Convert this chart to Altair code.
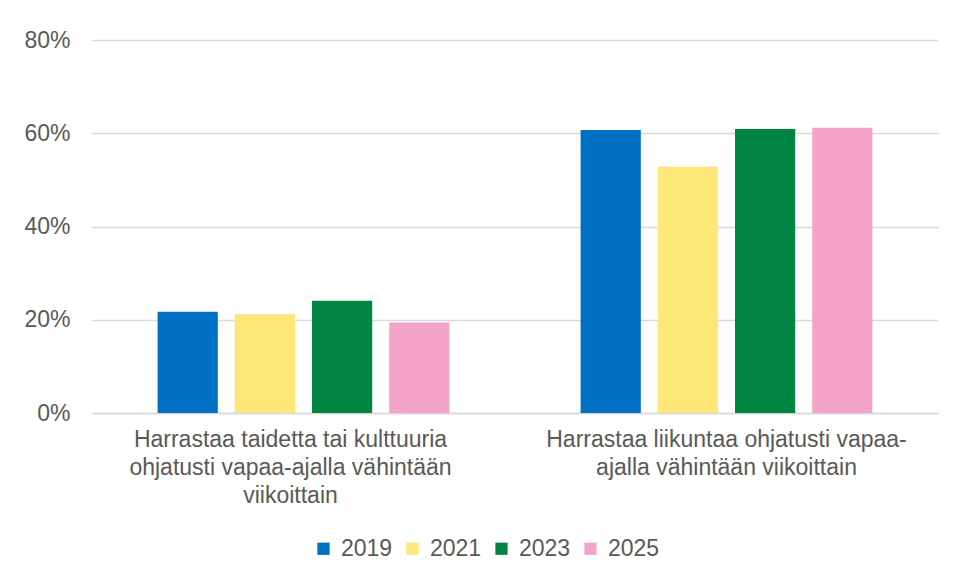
import altair as alt
import pandas as pd

categories = [
    "Harrastaa taidetta tai kulttuuria\nohjatusti vapaa-ajalla vähintään\nviikoittain",
    "Harrastaa liikuntaa ohjatusti vapaa-\najalla vähintään viikoittain",
]
years = ["2019", "2021", "2023", "2025"]
values_2019 = [0.217, 0.607]
values_2021 = [0.212, 0.528]
values_2023 = [0.241, 0.609]
values_2025 = [0.194, 0.612]
colors = ["#0070C4", "#FFE679", "#008542", "#F4A4C9"]

rows = []
for y, vals in zip(years, [values_2019, values_2021, values_2023, values_2025]):
    for c, v in zip(categories, vals):
        rows.append({"category": c, "year": y, "value": v})
df = pd.DataFrame(rows)

FONT = "Liberation Sans"
GREY = "#595959"

chart = alt.Chart(df).mark_bar().encode(
    x=alt.X("category:N", sort=categories, title=None,
            scale=alt.Scale(paddingInner=0.27, paddingOuter=0.135),
            axis=alt.Axis(labelAngle=0, labelExpr="split(datum.label, '\\n')",
                          labelFontSize=23, labelColor=GREY, labelFont=FONT,
                          labelLineHeight=28, labelPadding=15, labelBaseline="top",
                          labelOffset={"condition": {"test": "datum.index == 0", "value": -13}, "value": 0},
                          ticks=False, domain=True, domainColor="#d9d9d9", domainWidth=1.5,
                          labelLimit=500)),
    xOffset=alt.XOffset("year:N", sort=years,
                        scale=alt.Scale(paddingInner=0.22, paddingOuter=0.11)),
    y=alt.Y("value:Q", title=None,
            scale=alt.Scale(domain=[0, 0.8], nice=False),
            axis=alt.Axis(format=".0%", values=[0, 0.2, 0.4, 0.6, 0.8],
                          labelFontSize=23, labelColor=GREY, labelFont=FONT,
                          labelPadding=22, ticks=False, domain=False,
                          gridColor="#d9d9d9", gridWidth=1.5)),
    color=alt.Color("year:N", sort=years,
                    scale=alt.Scale(domain=years, range=colors),
                    legend=alt.Legend(title=None, orient="none", direction="horizontal",
                                      legendX=220, legendY=497, columns=4,
                                      symbolType="square", symbolSize=150,
                                      symbolStrokeWidth=0, symbolOpacity=1,
                                      labelFontSize=23, labelColor=GREY, labelFont=FONT,
                                      labelOffset=6, columnPadding=8, padding=0)),
).properties(
    width=846, height=373,
    autosize=alt.AutoSizeParams(type="none"),
    padding={"left": 84, "top": 32, "right": 8, "bottom": 150},
    background="white",
).configure_view(strokeWidth=0, stroke="transparent")

chart.save("out.html", embed_options={"renderer": "svg", "actions": False})
